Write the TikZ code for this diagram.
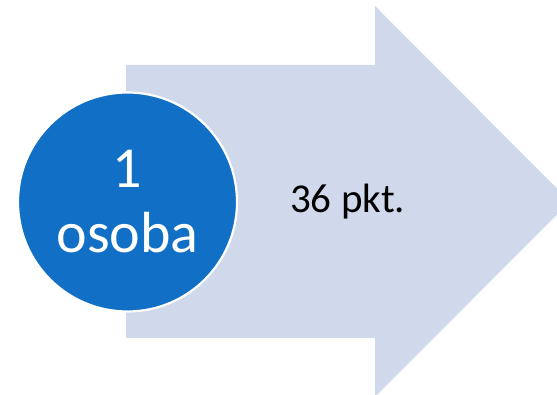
\documentclass[tikz,border=0pt]{standalone}
\usepackage{fontspec}
\setmainfont{Carlito}
\definecolor{arrowfill}{HTML}{CFD9EB}
\definecolor{circfill}{HTML}{1170C5}
\begin{document}
\begin{tikzpicture}[x=1pt,y=1pt,
  bigarrow/.style={fill=arrowfill,draw=none},
  badge/.style={circle,fill=circfill,draw=white,line width=2.2pt,minimum size=219pt,inner sep=0pt,
    text=white,align=center,font={\fontsize{58}{65}\selectfont}},
  lbl/.style={font={\fontsize{41}{49}\selectfont},text=black,inner sep=0pt}]
\useasboundingbox (0,0) rectangle (557,395);
\fill[white] (0,0) rectangle (557,395);
\clip (0,0) rectangle (557,395);
\fill[bigarrow] (126,{395-65}) -- (375,{395-65}) -- (375,{395-6}) -- (570,{395-201.5})
  -- (375,{395-397}) -- (375,{395-338}) -- (126,{395-338}) -- cycle;
\node[badge] (p) at (127.5,{395-202}) {1\\osoba};
\node[lbl,anchor=base west] (t) at (290,{395-213}) {36 pkt.};
\end{tikzpicture}
\end{document}
